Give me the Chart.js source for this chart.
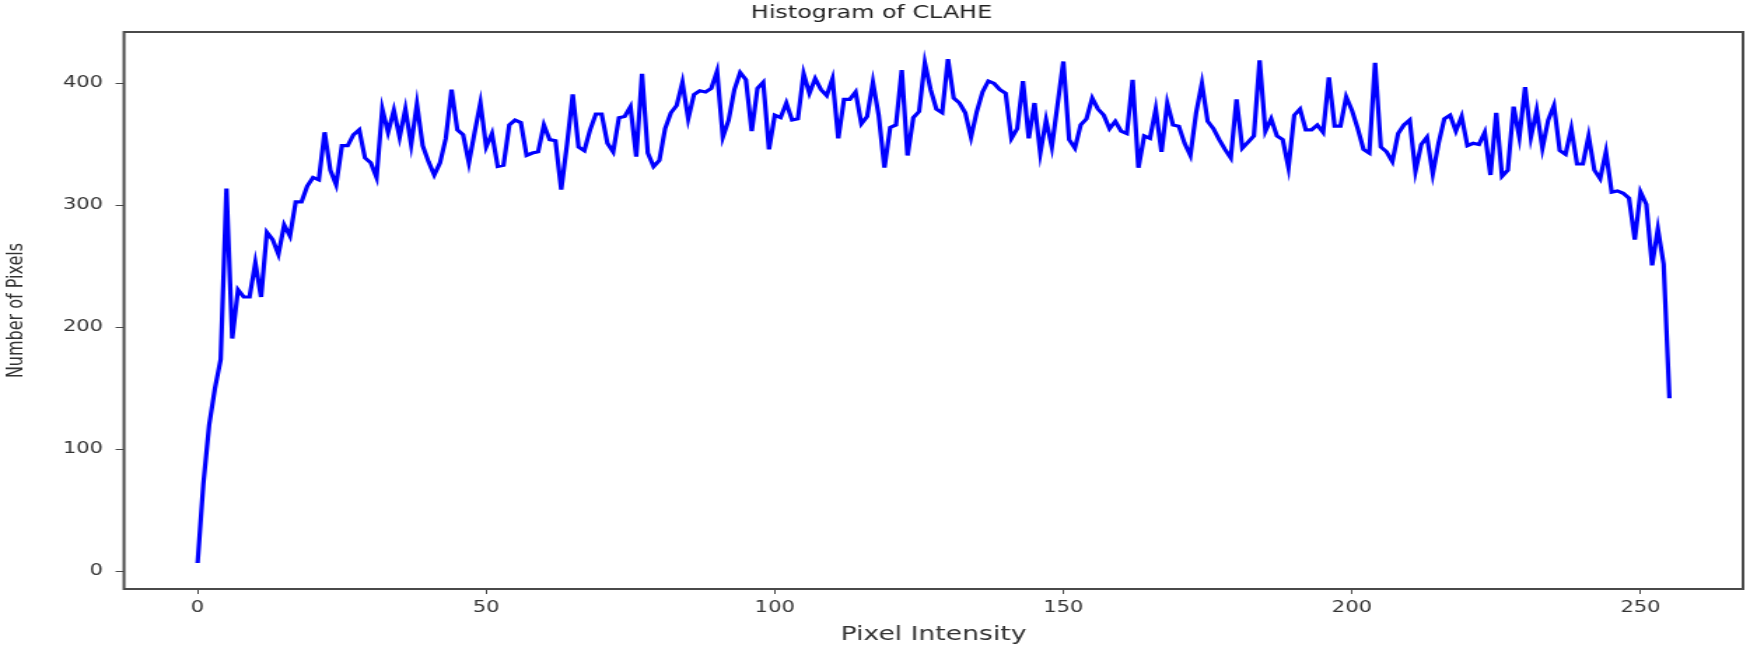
<!DOCTYPE html>
<html>
<head>
<meta charset="utf-8">
<title>Histogram of CLAHE</title>
<script src="https://cdn.jsdelivr.net/npm/chart.js@4.4.1/dist/chart.umd.min.js"></script>
<style>
  html, body { margin: 0; padding: 0; background: #fff; overflow: hidden; }
  #wrap { height: 648px; transform-origin: 0 0; }
  canvas { display: block; }
</style>
</head>
<body>
<div id="wrap"><canvas id="hist"></canvas></div>
<script>
// chart text
const chartTitle = 'Histogram of CLAHE';
const xLabel = 'Pixel Intensity';
const yLabel = 'Number of Pixels';

// tick labels
const xTicks = [0, 50, 100, 150, 200, 250];
const yTicks = [0, 100, 200, 300, 400];

// pixel count per intensity 0..255
const counts = [
  7, 72, 120, 150, 174, 314, 191, 231, 225, 225,
  253, 225, 278, 272, 260, 284, 275, 303, 303, 316,
  323, 321, 360, 329, 317, 349, 349, 358, 362, 339,
  335, 323, 379, 360, 378, 356, 379, 350, 383, 349,
  336, 325, 335, 355, 395, 362, 358, 335, 360, 384,
  348, 359, 332, 333, 366, 370, 368, 341, 343, 344,
  366, 354, 353, 313, 350, 391, 348, 345, 362, 375,
  375, 351, 344, 372, 373, 381, 340, 408, 343, 332,
  337, 363, 376, 382, 401, 371, 391, 394, 393, 396,
  410, 356, 370, 395, 409, 403, 361, 396, 401, 346,
  374, 372, 384, 370, 371, 408, 392, 404, 395, 390,
  404, 355, 387, 387, 393, 367, 373, 401, 374, 331,
  364, 366, 411, 341, 372, 377, 417, 395, 379, 376,
  420, 388, 384, 376, 356, 377, 393, 402, 400, 395,
  392, 355, 363, 402, 355, 384, 343, 370, 348, 383,
  418, 354, 347, 366, 371, 388, 379, 374, 363, 369,
  361, 359, 403, 331, 357, 355, 379, 344, 384, 366,
  365, 351, 341, 376, 400, 369, 363, 354, 346, 339,
  387, 347, 352, 357, 419, 361, 371, 357, 354, 331,
  374, 379, 362, 362, 366, 360, 405, 365, 365, 389,
  378, 363, 346, 343, 417, 348, 344, 336, 359, 366,
  370, 328, 350, 356, 326, 351, 371, 374, 361, 373,
  349, 351, 350, 360, 325, 376, 324, 329, 381, 356,
  397, 356, 378, 347, 370, 382, 345, 342, 363, 334,
  334, 357, 329, 322, 344, 311, 312, 310, 306, 272,
  311, 301, 251, 281, 252, 142
];
const intensities = counts.map((_, i) => i);

// the source image is stretched sideways, so draw narrow and widen with CSS
const STRETCH = 1.4;
const PAGE_W = 1750, PAGE_H = 648;
const W = Math.round(PAGE_W / STRETCH);

const wrap = document.getElementById('wrap');
wrap.style.width = W + 'px';
wrap.style.transform = 'scaleX(' + STRETCH + ')';
const canvas = document.getElementById('hist');
canvas.width = W;
canvas.height = PAGE_H;

const plotLeft = 124 / STRETCH;
const plotRight = 1743 / STRETCH;
const axisColor = '#4a4a4a';
const textColor = '#333333';
const font = "'DejaVu Sans', sans-serif";

// box round the plot area, like matplotlib spines
const framePlugin = {
  id: 'frame',
  afterDraw(chart) {
    const a = chart.chartArea;
    const ctx = chart.ctx;
    ctx.save();
    ctx.strokeStyle = axisColor;
    ctx.lineWidth = 2;
    ctx.strokeRect(a.left, a.top, a.right - a.left, a.bottom - a.top);
    ctx.restore();
  }
};

new Chart(canvas.getContext('2d'), {
  type: 'line',
  data: {
    labels: intensities,
    datasets: [{
      data: counts.map((v, i) => ({ x: intensities[i], y: v })),
      borderColor: '#0000ff',
      borderWidth: 3.2,
      pointRadius: 0,
      tension: 0,
      fill: false
    }]
  },
  options: {
    responsive: false,
    animation: false,
    devicePixelRatio: 1,
    layout: { padding: { left: 0, right: W - plotRight, top: 0, bottom: 0 } },
    plugins: {
      legend: { display: false },
      tooltip: { enabled: false },
      title: {
        display: true,
        text: chartTitle,
        color: '#222',
        font: { family: font, size: 17, weight: 'normal', lineHeight: 1.2 },
        padding: { top: 3, bottom: 8.6 }
      }
    },
    scales: {
      x: {
        type: 'linear',
        min: -12.75,
        max: 267.75,
        afterBuildTicks: (s) => { s.ticks = xTicks.map(v => ({ value: v })); },
        afterFit: (s) => { s.height = PAGE_H - 589; },
        grid: { drawOnChartArea: false, drawTicks: true, tickLength: 5, tickColor: axisColor },
        border: { display: false },
        ticks: { color: textColor, font: { family: font, size: 15 }, padding: 5, maxRotation: 0 },
        title: {
          display: true, text: xLabel, color: textColor,
          font: { family: font, size: 19 }, padding: { top: 0, bottom: 2 }
        }
      },
      y: {
        min: -14.3,
        max: 442.2,
        afterBuildTicks: (s) => { s.ticks = yTicks.map(v => ({ value: v })); },
        afterFit: (s) => { s.width = plotLeft; },
        grid: { drawOnChartArea: false, drawTicks: true, tickLength: 6, tickColor: axisColor },
        border: { display: false },
        ticks: { color: textColor, font: { family: font, size: 15 }, padding: 9 },
        title: {
          display: true, text: yLabel, color: textColor,
          font: { family: font, size: 16 }, padding: { top: 2, bottom: 0 }
        }
      }
    }
  },
  plugins: [framePlugin]
});
</script>
</body>
</html>
